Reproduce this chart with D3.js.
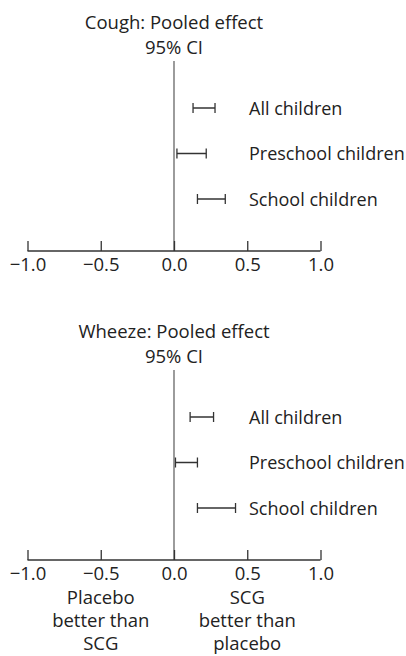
<!DOCTYPE html>
<html>
<head>
<meta charset="utf-8">
<script src="https://cdn.jsdelivr.net/npm/d3@7"></script>
<style>
  body { margin: 0; background: #fff; }
  svg text { font-family: "Open Sans", sans-serif; fill: #222; }
</style>
</head>
<body>
<div id="chart"></div>
<script>
// groups shown in each panel
const groups = ["All children", "Preschool children", "School children"];

// cough: pooled effect, 95% CI (lower, upper)
const coughLow = [0.13, 0.02, 0.16];
const coughHigh = [0.28, 0.22, 0.35];

// wheeze: pooled effect, 95% CI (lower, upper)
const wheezeLow = [0.11, 0.01, 0.16];
const wheezeHigh = [0.27, 0.16, 0.42];

const ticks = [-1.0, -0.5, 0.0, 0.5, 1.0];
const panelTitles = ["Cough: Pooled effect", "Wheeze: Pooled effect"];

const width = 406, height = 656;
const fontSize = "18.5px";

const svg = d3.select("#chart")
  .append("svg")
  .attr("width", width)
  .attr("height", height);

const x = d3.scaleLinear()
  .domain([-1, 1])
  .range([27.5, 320.5]);

const panels = [
  {title: panelTitles[0], low: coughLow, high: coughHigh, top: 0},
  {title: panelTitles[1], low: wheezeLow, high: wheezeHigh, top: 309}
];

panels.forEach(function(p) {
  const g = svg.append("g")
    .attr("transform", `translate(0,${p.top})`);

  const axisY = 251;

  const y = d3.scalePoint()
    .domain(groups)
    .range([108, 199]);

  // titles
  g.append("text")
    .attr("x", x(0))
    .attr("y", 29)
    .attr("text-anchor", "middle")
    .style("font-size", fontSize)
    .text(p.title);
  g.append("text")
    .attr("x", x(0))
    .attr("y", 54)
    .attr("text-anchor", "middle")
    .style("font-size", fontSize)
    .text("95% CI");

  // zero line
  g.append("line")
    .attr("x1", x(0)).attr("x2", x(0))
    .attr("y1", 61).attr("y2", axisY)
    .attr("stroke", "#666")
    .attr("stroke-width", 1.3);

  // x axis, ticks pointing up
  const axis = g.append("g")
    .attr("transform", `translate(0,${axisY})`)
    .call(d3.axisTop(x).tickValues(ticks).tickSize(10).tickFormat(d => d3.format(".1f")(d).replace("-", "\u2212")));
  axis.select(".domain").attr("d", `M${x(-1)},0H${x(1)}`).attr("stroke", "#333").attr("stroke-width", 1.3);
  axis.selectAll(".tick line").attr("stroke", "#333").attr("stroke-width", 1.3);
  axis.selectAll(".tick text")
    .attr("y", 20)
    .attr("dy", 0)
    .style("font-size", fontSize)
    .style("font-family", "'Open Sans', sans-serif")
    .attr("fill", "#222");

  // CI bars
  const rows = groups.map((d, i) => ({group: d, low: p.low[i], high: p.high[i]}));
  const bar = g.selectAll(".ci")
    .data(rows)
    .join("g")
    .attr("class", "ci");
  bar.append("line")
    .attr("x1", d => x(d.low)).attr("x2", d => x(d.high))
    .attr("y1", d => y(d.group)).attr("y2", d => y(d.group))
    .attr("stroke", "#333").attr("stroke-width", 1.5);
  bar.append("line")
    .attr("x1", d => x(d.low)).attr("x2", d => x(d.low))
    .attr("y1", d => y(d.group) - 5).attr("y2", d => y(d.group) + 5)
    .attr("stroke", "#333").attr("stroke-width", 1.3);
  bar.append("line")
    .attr("x1", d => x(d.high)).attr("x2", d => x(d.high))
    .attr("y1", d => y(d.group) - 5).attr("y2", d => y(d.group) + 5)
    .attr("stroke", "#333").attr("stroke-width", 1.3);
  bar.append("text")
    .attr("x", 249)
    .attr("y", d => y(d.group) + 6.5)
    .style("font-size", "18px")
    .text(d => d.group);
});

// direction notes under the lower axis
const notes = [
  {at: -0.5, lines: ["Placebo", "better than", "SCG"]},
  {at: 0.5, lines: ["SCG", "better than", "placebo"]}
];
notes.forEach(function(n) {
  n.lines.forEach(function(t, i) {
    svg.append("text")
      .attr("x", x(n.at))
      .attr("y", 604 + i * 23)
      .attr("text-anchor", "middle")
      .style("font-size", fontSize)
      .text(t);
  });
});
</script>
</body>
</html>
